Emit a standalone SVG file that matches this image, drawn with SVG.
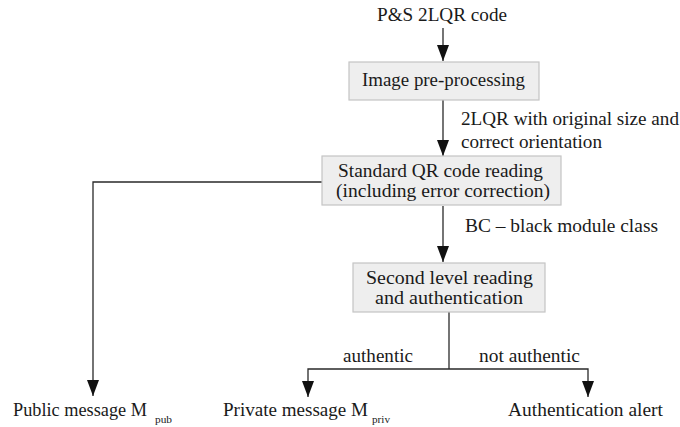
<svg xmlns="http://www.w3.org/2000/svg" width="680" height="427" viewBox="0 0 680 427">
<style>
text{font-family:"Liberation Serif","Times New Roman",serif;font-size:18px;fill:#1a1a1a}
.box{fill:#eeeeee;stroke:#c4c4c4;stroke-width:1.2}
.ln{fill:none;stroke:#2a2a2a;stroke-width:1.3}
.sub{font-size:10px}
</style>
<defs>
<marker id="ah" markerWidth="16" markerHeight="12" refX="16" refY="6" orient="auto" markerUnits="userSpaceOnUse" viewBox="0 0 16 12">
<path d="M0,0 L16,6 L0,12 Z" fill="#111"/>
</marker>
</defs>
<rect width="680" height="427" fill="#fff"/>
<g id="connectors">
<path class="ln" d="M443,28 V61" marker-end="url(#ah)"/>
<path class="ln" d="M443,100 V156" marker-end="url(#ah)"/>
<path class="ln" d="M443,206 V262" marker-end="url(#ah)"/>
<path class="ln" d="M322,182 H93 V396" marker-end="url(#ah)"/>
<path class="ln" d="M449,312 V369"/>
<path class="ln" d="M449,369 H308 V397" marker-end="url(#ah)"/>
<path class="ln" d="M449,369 H588 V397" marker-end="url(#ah)"/>
<text x="461" y="125" textLength="218" lengthAdjust="spacingAndGlyphs">2LQR with original size and</text>
<text x="461" y="148" textLength="141" lengthAdjust="spacingAndGlyphs">correct orientation</text>
<text x="465" y="232" textLength="193" lengthAdjust="spacingAndGlyphs">BC – black module class</text>
<text x="343" y="362" textLength="70" lengthAdjust="spacingAndGlyphs">authentic</text>
<text x="479" y="362" textLength="101" lengthAdjust="spacingAndGlyphs">not authentic</text>
</g>
<g id="input">
<text x="377" y="21" textLength="130" lengthAdjust="spacingAndGlyphs">P&amp;S 2LQR code</text>
</g>
<g id="preprocessing">
<rect class="box" x="349" y="62" width="190" height="38"/>
<text x="362" y="86" textLength="163" lengthAdjust="spacingAndGlyphs">Image pre-processing</text>
</g>
<g id="standard-reading">
<rect class="box" x="322" y="156" width="239" height="49"/>
<text x="338" y="177" textLength="205" lengthAdjust="spacingAndGlyphs">Standard QR code reading</text>
<text x="336" y="197" textLength="214" lengthAdjust="spacingAndGlyphs">(including error correction)</text>
</g>
<g id="second-level">
<rect class="box" x="353" y="263" width="192" height="49"/>
<text x="366" y="284" textLength="167" lengthAdjust="spacingAndGlyphs">Second level reading</text>
<text x="375" y="304" textLength="148" lengthAdjust="spacingAndGlyphs">and authentication</text>
</g>
<g id="public-message">
<text x="13" y="416" textLength="134" lengthAdjust="spacingAndGlyphs">Public message M</text>
<text class="sub" x="155" y="423" textLength="17" lengthAdjust="spacingAndGlyphs">pub</text>
</g>
<g id="private-message">
<text x="223" y="416" textLength="145" lengthAdjust="spacingAndGlyphs">Private message M</text>
<text class="sub" x="372" y="423" textLength="18" lengthAdjust="spacingAndGlyphs">priv</text>
</g>
<g id="auth-alert">
<text x="508" y="416" textLength="155" lengthAdjust="spacingAndGlyphs">Authentication alert</text>
</g>
</svg>
